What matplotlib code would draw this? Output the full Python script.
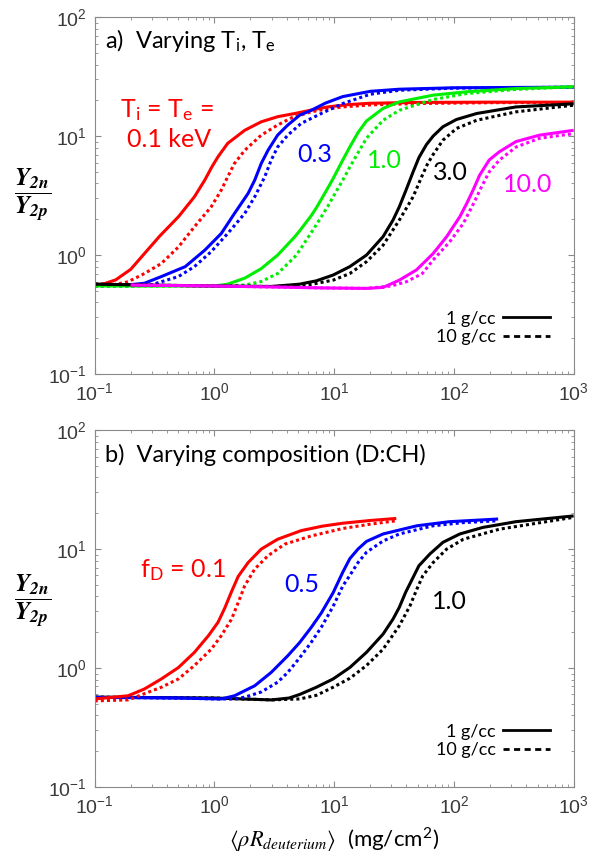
import matplotlib
matplotlib.use("Agg")
import matplotlib.pyplot as plt
from matplotlib.lines import Line2D

plt.rcParams['font.family'] = ['Liberation Sans', 'DejaVu Sans']
plt.rcParams['mathtext.fontset'] = 'stix'

# ---------------- panel a) : varying Ti = Te ----------------
red1_x = [0.1, 0.12, 0.15, 0.2, 0.26, 0.35, 0.5, 0.68, 0.83, 0.95, 1.07, 1.29, 1.79, 2.46, 3.4, 4.7, 6.5, 8.8, 13, 20, 50, 200, 1000]
red1_y = [0.56, 0.575, 0.62, 0.76, 1.03, 1.45, 2.1, 3.09, 4.27, 5.5, 6.7, 8.7, 11.2, 13.2, 14.6, 15.5, 16.6, 17.6, 18.4, 18.9, 19.2, 19.3, 19.3]
red10_x = [0.1, 0.14, 0.19, 0.26, 0.36, 0.5, 0.68, 0.94, 1.14, 1.29, 1.47, 1.79, 2.46, 3.37, 4.5, 6.44, 8.5, 11.8, 20, 50, 200, 1000]
red10_y = [0.55, 0.56, 0.597, 0.7, 0.85, 1.17, 1.73, 2.55, 3.52, 4.55, 5.9, 7.6, 10.2, 12.4, 14.4, 16.0, 16.9, 17.6, 18.3, 18.8, 19.1, 19.2]

blue1_x = [0.1, 0.2, 0.26, 0.36, 0.57, 0.83, 1.14, 1.47, 1.91, 2.17, 2.46, 2.8, 3.37, 4.1, 5.15, 6.44, 8.5, 11.8, 20, 35, 100, 1000]
blue1_y = [0.56, 0.565, 0.58, 0.66, 0.8, 1.1, 1.52, 2.24, 3.3, 4.27, 5.9, 7.6, 10.2, 12.4, 15.0, 16.5, 19.0, 21.5, 23.8, 24.8, 25.5, 25.8]
blue10_x = [0.1, 0.2, 0.3, 0.5, 0.68, 0.94, 1.29, 1.79, 2.17, 2.63, 2.98, 3.37, 4.1, 5.3, 7.8, 11.8, 20, 35, 100, 1000]
blue10_y = [0.55, 0.55, 0.565, 0.66, 0.8, 1.07, 1.52, 2.24, 3.09, 4.55, 6.3, 8.1, 10.2, 12.8, 15.5, 18.8, 22.5, 24.3, 25.3, 25.8]

green1_x = [0.1, 0.5, 1.0, 1.29, 1.79, 2.46, 3.37, 4.7, 5.15, 6.44, 7.1, 8.9, 9.8, 11.8, 13.5, 15.8, 18.6, 25.6, 35, 67, 128, 330, 1000]
green1_y = [0.55, 0.55, 0.55, 0.57, 0.64, 0.77, 1.0, 1.43, 1.6, 2.15, 2.5, 3.7, 4.4, 6.3, 8.1, 10.7, 13.4, 17.1, 19.4, 22.1, 23.6, 25.1, 26.0]
green10_x = [0.1, 0.5, 1.0, 1.8, 2.46, 3.37, 4.7, 5.15, 6.44, 7.1, 8.9, 9.8, 12.3, 13.5, 18.6, 25.6, 35, 67, 128, 330, 1000]
green10_y = [0.55, 0.55, 0.55, 0.56, 0.6, 0.7, 0.97, 1.1, 1.55, 1.8, 2.6, 3.09, 4.6, 5.5, 9.6, 13.6, 16.5, 20.3, 22.8, 24.7, 26.0]

black1_x = [0.1, 0.3, 1, 3, 5.15, 7.1, 9.8, 13.5, 18.6, 25.6, 31, 35, 39.5, 45.6, 51, 59, 67, 81, 105, 155, 330, 1000]
black1_y = [0.57, 0.56, 0.55, 0.545, 0.57, 0.608, 0.68, 0.8, 1.0, 1.43, 1.97, 2.55, 3.45, 5.0, 6.6, 8.5, 10.0, 12.0, 13.8, 15.5, 17.6, 18.7]
black10_x = [0.1, 0.3, 1, 3, 6, 9.8, 13.5, 18.6, 25.6, 35, 45.6, 54, 60, 67, 81, 105, 155, 330, 1000]
black10_y = [0.57, 0.56, 0.55, 0.545, 0.56, 0.616, 0.7, 0.88, 1.21, 1.97, 3.09, 4.6, 5.8, 7.0, 9.25, 11.6, 13.6, 16.0, 18.2]

mag1_x = [0.2, 1, 3, 8, 18.6, 25.6, 35, 48.6, 67, 87, 112, 128, 146, 164, 197, 240, 330, 520, 1000]
mag1_y = [0.56, 0.55, 0.54, 0.53, 0.525, 0.535, 0.616, 0.75, 1.03, 1.43, 2.1, 2.72, 3.6, 4.7, 6.3, 7.4, 9.0, 10.2, 11.2]
mag10_x = [0.2, 1, 3, 8, 18.6, 30, 40, 54.5, 67, 92, 120, 146, 170, 197, 240, 330, 520, 1000]
mag10_y = [0.56, 0.55, 0.54, 0.53, 0.525, 0.55, 0.597, 0.7, 0.91, 1.29, 1.85, 2.72, 3.75, 5.0, 6.3, 8.1, 9.6, 10.5]

# ---------------- panel b) : varying composition ----------------
fd01_x = [0.1, 0.19, 0.26, 0.36, 0.5, 0.68, 0.89, 1.07, 1.22, 1.39, 1.58, 1.91, 2.46, 3.37, 5.3, 8.0, 11.8, 20, 33]
fd01_y = [0.55, 0.585, 0.667, 0.81, 1.01, 1.355, 1.87, 2.42, 3.2, 4.4, 5.9, 7.7, 10.0, 12.1, 14.3, 15.6, 16.5, 17.4, 18.1]
fd01d_x = [0.1, 0.19, 0.36, 0.5, 0.68, 0.94, 1.14, 1.39, 1.58, 1.79, 2.17, 2.8, 3.86, 6.44, 11.8, 20, 33]
fd01d_y = [0.53, 0.54, 0.69, 0.81, 1.05, 1.44, 1.87, 2.58, 3.56, 4.92, 6.8, 8.8, 11.0, 12.9, 14.9, 16.2, 17.3]

fd05_x = [0.1, 0.5, 1.14, 1.47, 2.17, 2.98, 4.1, 5.15, 6.44, 7.8, 9.8, 11.8, 13.5, 15.8, 18.6, 25.6, 49, 92, 234]
fd05_y = [0.567, 0.56, 0.55, 0.585, 0.71, 0.92, 1.27, 1.64, 2.2, 2.9, 4.3, 6.4, 8.3, 10.0, 11.6, 13.4, 15.7, 17.0, 17.9]
fd05d_x = [0.1, 0.5, 1.0, 1.48, 1.8, 2.46, 3.37, 4.1, 5.15, 6.44, 7.8, 9.8, 11.8, 13.5, 15.8, 18.6, 25.6, 35, 67, 120, 234]
fd05d_y = [0.567, 0.56, 0.55, 0.55, 0.57, 0.63, 0.76, 0.92, 1.22, 1.65, 2.2, 3.3, 4.9, 6.0, 7.7, 9.4, 11.7, 13.4, 15.7, 16.7, 17.3]

fd10_x = [0.1, 1, 3, 4.2, 5.15, 7.1, 9.8, 13.5, 18.6, 25.6, 31, 35, 39.5, 45.6, 51, 63, 81, 112, 174, 330, 1000]
fd10_y = [0.57, 0.56, 0.54, 0.56, 0.6, 0.69, 0.81, 1.01, 1.355, 1.93, 2.58, 3.24, 4.33, 5.78, 7.24, 9.1, 11.4, 13.4, 15.2, 17.0, 19.0]
fd10d_x = [0.1, 1, 3, 5.15, 7.1, 9.8, 13.5, 18.6, 25.6, 35, 43, 49, 55, 67, 87, 120, 240, 1000]
fd10d_y = [0.57, 0.56, 0.54, 0.55, 0.59, 0.69, 0.82, 1.05, 1.44, 2.27, 3.34, 4.6, 5.97, 7.7, 10.0, 12.1, 14.7, 18.5]

top_curves = [
    (red1_x, red1_y, red10_x, red10_y, '#ff0000'),
    (blue1_x, blue1_y, blue10_x, blue10_y, '#0000ff'),
    (green1_x, green1_y, green10_x, green10_y, '#00ee00'),
    (black1_x, black1_y, black10_x, black10_y, '#000000'),
    (mag1_x, mag1_y, mag10_x, mag10_y, '#ff00ff'),
]
bot_curves = [
    (fd10_x, fd10_y, fd10d_x, fd10d_y, '#000000'),
    (fd05_x, fd05_y, fd05d_x, fd05d_y, '#0000ff'),
    (fd01_x, fd01_y, fd01d_x, fd01d_y, '#ff0000'),
]

TXT = ['Lato', 'DejaVu Sans']
GRAY = '#8a8a8a'
DOT = (0, (1, 1))

fig = plt.figure(figsize=(5.92, 8.58), dpi=100)
ax1 = fig.add_axes([0.160, 0.564, 0.809, 0.416])
ax2 = fig.add_axes([0.160, 0.0827, 0.809, 0.416])

def style_axes(ax):
    ax.set_xscale('log')
    ax.set_yscale('log')
    ax.set_xlim(0.1, 1000)
    ax.set_ylim(0.1, 100)
    for s in ax.spines.values():
        s.set_color(GRAY)
    ax.tick_params(which='both', direction='in', top=True, right=True, colors=GRAY,
                   labelcolor='#3a3a3a', labelsize=14)
    ax.tick_params(which='major', length=4.5, width=0.8, pad=6)
    ax.tick_params(which='minor', length=2.3, width=0.6)
    handles = [Line2D([], [], color='k', lw=2.0),
               Line2D([], [], color='k', lw=2.0, ls=(0, (2.2, 1.6)))]
    ax.legend(handles, ['1 g/cc', '10 g/cc'], loc='lower right', frameon=False,
              markerfirst=False, handlelength=2.6, handletextpad=0.4, labelspacing=0.15,
              bbox_to_anchor=(0.985, 0.035), prop={'family': TXT, 'size': 13})

for ax, curves in [(ax1, top_curves), (ax2, bot_curves)]:
    style_axes(ax)
    for x1, y1, x10, y10, c in curves:
        ax.plot(x1, y1, color=c, lw=2.2, solid_capstyle='butt', solid_joinstyle='round')
        ax.plot(x10, y10, color=c, lw=2.2, ls=DOT, dash_capstyle='butt')

# panel titles
ax1.text(0.021, 0.913, r'a)  Varying T$_{\mathregular{i}}$, T$_{\mathregular{e}}$', transform=ax1.transAxes,
         family=TXT, fontsize=17, va='baseline')
ax2.text(0.021, 0.91, 'b)  Varying composition (D:CH)', transform=ax2.transAxes,
         family=TXT, fontsize=17, va='baseline')

# curve labels, panel a
ax1.text(0.162, 14.4, r'T$_{\mathregular{i}}$ = T$_{\mathregular{e}}$ =', color='#ff0000', family=TXT, fontsize=18, va='baseline')
ax1.text(0.185, 8.1, '0.1 keV', color='#ff0000', family=TXT, fontsize=18, va='baseline')
ax1.text(4.87, 6.05, '0.3', color='#0000ff', family=TXT, fontsize=18, va='baseline')
ax1.text(18.7, 5.4, '1.0', color='#00ee00', family=TXT, fontsize=18, va='baseline')
ax1.text(66.5, 4.27, '3.0', color='#000000', family=TXT, fontsize=18, va='baseline')
ax1.text(255, 3.38, '10.0', color='#ff00ff', family=TXT, fontsize=18, va='baseline')

# curve labels, panel b
ax2.text(0.238, 5.8, r'f$_{\mathregular{D}}$ = 0.1', color='#ff0000', family=TXT, fontsize=18, va='baseline')
ax2.text(3.86, 4.35, '0.5', color='#0000ff', family=TXT, fontsize=18, va='baseline')
ax2.text(65, 3.13, '1.0', color='#000000', family=TXT, fontsize=18, va='baseline')

# y labels
ylab = r'$\dfrac{\mathbfit{Y}_{\mathbfit{2n}}}{\mathbfit{Y}_{\mathbfit{2p}}}$'
fig.text(33 / 592, 1 - 195 / 858, ylab, fontsize=18, ha='center', va='center')
fig.text(33 / 592, 1 - 601 / 858, ylab, fontsize=18, ha='center', va='center')

ax2.set_xlabel(r'$\langle\rho R_{deuterium}\rangle$  (mg/cm$^{\mathregular{2}}$)', family=TXT,
               fontsize=16, labelpad=6)

fig.savefig('out.png', dpi=100)
